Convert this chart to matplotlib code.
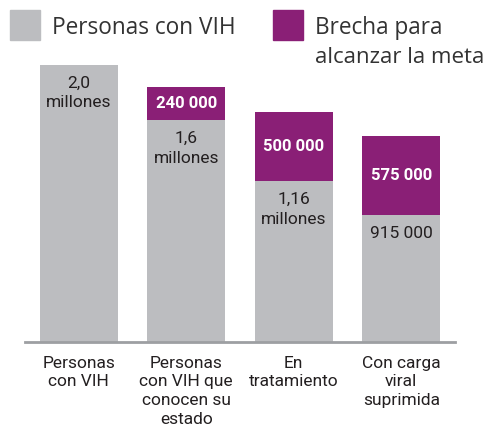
from matplotlib import pyplot as plt
from matplotlib.patches import Rectangle

categories = ['Personas\ncon VIH', 'Personas\ncon VIH que\nconocen su\nestado',
              'En\ntratamiento', 'Con carga\nviral\nsuprimida']
personas = [2.0, 1.6, 1.16, 0.915]
brecha = [0.0, 0.24, 0.5, 0.575]
personas_labels = ['2,0\nmillones', '1,6\nmillones', '1,16\nmillones', '915 000']
brecha_labels = ['', '240 000', '500 000', '575 000']

grey = '#bcbdc0'
purple = '#8a1f76'
dark = '#231f20'

plt.rcParams['font.family'] = ['Roboto', 'DejaVu Sans']

fig = plt.figure(figsize=(4.87, 4.30), dpi=100)
ax = fig.add_axes([25 / 487, 88 / 430, 430 / 487, 277 / 430])

x = range(len(categories))
ax.bar(x, personas, width=0.724, color=grey)
ax.bar(x, brecha, width=0.724, bottom=personas, color=purple)

for i in x:
    ax.annotate(personas_labels[i], (i, personas[i]), xytext=(0, -7.5),
                textcoords='offset points', ha='center', va='top',
                fontsize=12.5, color=dark, linespacing=1.4)
    if brecha[i] > 0:
        ax.text(i, personas[i] + brecha[i] / 2, brecha_labels[i], ha='center',
                va='center', fontsize=12, color='white', fontweight='bold')

ax.set_xlim(-0.5, 3.5)
ax.set_ylim(0, 2.0)
ax.set_xticks(list(x))
ax.set_xticklabels(categories, fontsize=12.5, color=dark, linespacing=1.3)
ax.tick_params(axis='x', length=0, pad=10)
ax.set_yticks([])
for s in ['top', 'right', 'left']:
    ax.spines[s].set_visible(False)
ax.spines['bottom'].set_color('#9d9fa2')
ax.spines['bottom'].set_linewidth(2)

# legend drawn by hand at the top
fig.patches.append(Rectangle((10 / 487, 1 - 40 / 430), 30 / 487, 30 / 430,
                             transform=fig.transFigure, color=grey))
fig.patches.append(Rectangle((273 / 487, 1 - 40 / 430), 30 / 487, 30 / 430,
                             transform=fig.transFigure, color=purple))
leg_font = ['Open Sans', 'DejaVu Sans']
fig.text(52 / 487, 1 - 34 / 430, 'Personas con VIH', fontsize=16.3, color='#333333',
         va='baseline', family=leg_font)
fig.text(315 / 487, 1 - 34 / 430, 'Brecha para', fontsize=16.3, color='#333333',
         va='baseline', family=leg_font)
fig.text(315 / 487, 1 - 63 / 430, 'alcanzar la meta', fontsize=16, color='#333333',
         va='baseline', family=leg_font)

fig.savefig('out.png', dpi=100)
